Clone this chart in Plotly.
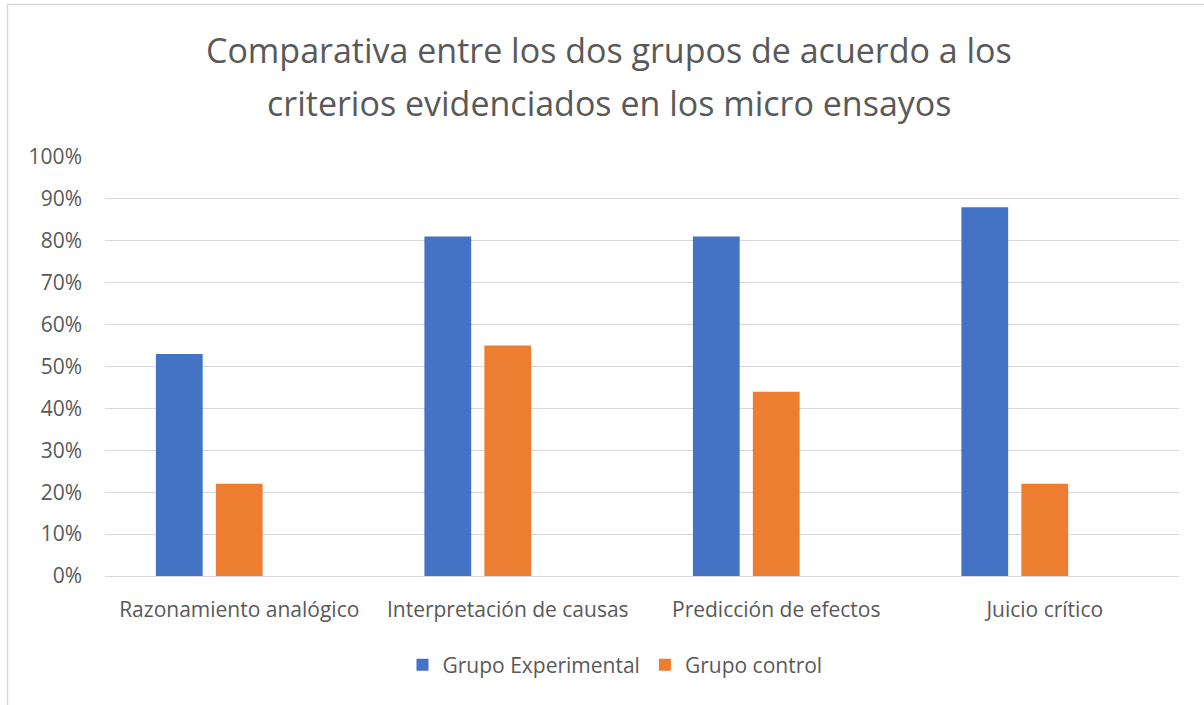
import plotly.graph_objects as go

categories = ["Razonamiento analógico", "Interpretación de causas", "Predicción de efectos", "Juicio crítico"]
experimental = [0.53, 0.81, 0.81, 0.88]
control = [0.22, 0.55, 0.44, 0.22]
placeholder = [0, 0, 0, 0]  # empty third series slot (as in the original chart)
y_ticks = [0, 0.1, 0.2, 0.3, 0.4, 0.5, 0.6, 0.7, 0.8, 0.9, 1.0]
title_lines = ["Comparativa entre los dos grupos de acuerdo a los",
               "criterios evidenciados en los micro ensayos"]

FONT = "Open Sans"
GREY = "#595959"

fig = go.Figure()
fig.add_trace(go.Bar(name="Grupo Experimental", x=categories, y=experimental,
                     marker=dict(color="#4472C4", line=dict(width=0))))
fig.add_trace(go.Bar(name="Grupo control", x=categories, y=control,
                     marker=dict(color="#ED7D31", line=dict(width=0))))
fig.add_trace(go.Bar(name="", x=categories, y=placeholder, showlegend=False,
                     hoverinfo="skip", opacity=0, marker=dict(line=dict(width=0))))

W, H = 1204, 705
L, R, T, B = 105, 25, 157, 129
pw, ph = W - L - R, H - T - B


def px_x(x):
    return (x - L) / pw


def px_y(y):
    return (H - B - y) / ph


fig.update_layout(
    width=W, height=H,
    margin=dict(l=L, r=R, t=T, b=B),
    paper_bgcolor="white", plot_bgcolor="white",
    barmode="group", bargap=0.33, bargroupgap=0.22,
    font=dict(family=FONT, color=GREY),
    legend=dict(orientation="h", x=px_x(615), xanchor="center", y=px_y(665), yanchor="middle",
                font=dict(family=FONT, size=21, color=GREY), itemwidth=30, traceorder="normal"),
    showlegend=True,
)
for i, line in enumerate(title_lines):
    fig.add_annotation(text=line, xref="paper", yref="paper", x=px_x(609), y=px_y(50 + 53 * i),
                       xanchor="center", yanchor="middle", showarrow=False,
                       font=dict(family=FONT, size=34, color=GREY))

fig.update_yaxes(range=[0, 1.0], tickvals=y_ticks, tickformat=".0%",
                 showgrid=True, gridcolor="#D9D9D9", gridwidth=1,
                 zeroline=True, zerolinecolor="#D9D9D9", zerolinewidth=1,
                 showline=False, ticks="", ticklabelstandoff=22,
                 tickfont=dict(family=FONT, size=21, color=GREY))
fig.update_xaxes(showgrid=False, showline=False, ticks="",
                 tickfont=dict(family=FONT, size=21, color=GREY), ticklabelstandoff=19)

# chart border (top and left edges visible)
fig.add_shape(type="line", xref="paper", yref="paper",
              x0=px_x(7), x1=px_x(W + 5), y0=px_y(4.5), y1=px_y(4.5),
              line=dict(color="#D9D9D9", width=1.5))
fig.add_shape(type="line", xref="paper", yref="paper",
              x0=px_x(7.5), x1=px_x(7.5), y0=px_y(4.5), y1=px_y(H + 5),
              line=dict(color="#D9D9D9", width=1.5))

fig.write_html("out.html", config={"displayModeBar": False},
               post_script="document.body.style.margin='0';")
